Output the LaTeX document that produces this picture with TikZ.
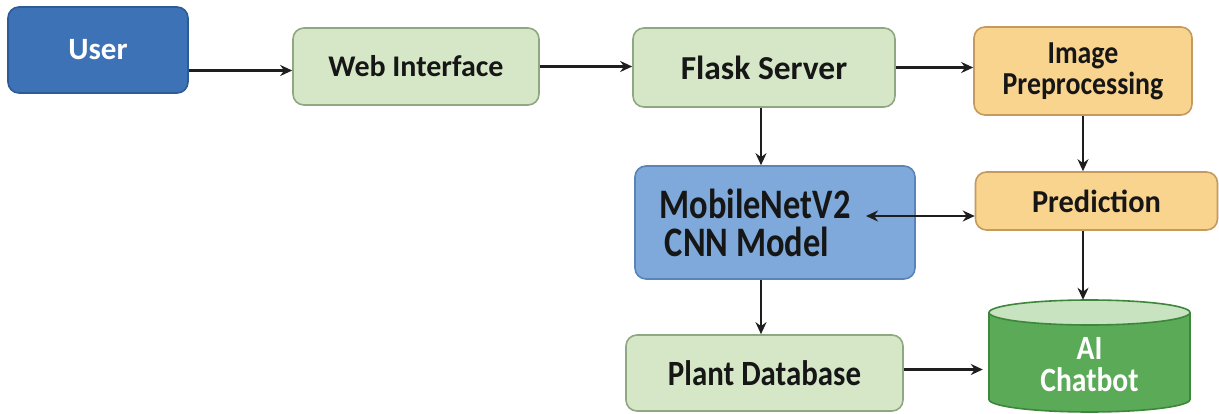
\documentclass[tikz,border=0pt]{standalone}
\usepackage{fontspec}
\setmainfont{Carlito}
\newfontfamily\fA{Carlito}
\newfontfamily\fB{Carlito}[FakeStretch=0.95]
\newfontfamily\fC{Carlito}[FakeStretch=0.87]
\newfontfamily\fD{Carlito}[FakeStretch=0.82]
\usetikzlibrary{arrows.meta}
\definecolor{ublue}{HTML}{3E72B6}
\definecolor{ubluedk}{HTML}{2D5B96}
\definecolor{lgreen}{HTML}{D5E7C7}
\definecolor{lgreendk}{HTML}{8FA882}
\definecolor{lorange}{HTML}{F9D48F}
\definecolor{lorangedk}{HTML}{C49A5E}
\definecolor{mblue}{HTML}{7FA9DA}
\definecolor{mbluedk}{HTML}{5A84B8}
\definecolor{dgreen}{HTML}{5BAA58}
\definecolor{dgreendk}{HTML}{3D873C}
\definecolor{topgreen}{HTML}{C8E3BF}
\definecolor{txt}{HTML}{161616}
\definecolor{arr}{HTML}{1E1E1E}
\begin{document}
\begin{tikzpicture}[x=1pt,y=-1pt,
  box/.style={draw, line width=1.6pt, rounded corners=11pt, align=center, text=txt, inner sep=0pt},
  greenbox/.style={box, fill=lgreen, draw=lgreendk},
  orangebox/.style={box, fill=lorange, draw=lorangedk},
  cylline/.style={draw=dgreendk, line width=1.6pt},
  conn/.style={-{Stealth[length=12pt,width=11pt]}, line width=2.2pt, arr},
  dconn/.style={{Stealth[length=12pt,width=11pt]}-{Stealth[length=12pt,width=11pt]}, line width=2.2pt, arr}]
\useasboundingbox (0,0) rectangle (1219,414);
\node[box, fill=ublue, draw=ubluedk, text=white, minimum width=180pt, minimum height=86pt, font=\fA\bfseries\fontsize{31}{34}\selectfont] (user) at (98,50) {User};
\node[greenbox, minimum width=246pt, minimum height=77pt, font=\fA\bfseries\fontsize{30}{34}\selectfont] (web) at (416,66.5) {Web Interface};
\node[greenbox, minimum width=262pt, minimum height=79pt, font=\fA\bfseries\fontsize{33.5}{36}\selectfont] (flask) at (764,67.5) {Flask Server};
\node[orangebox, minimum width=218pt, minimum height=88pt, font=\fC\bfseries\fontsize{32}{31}\selectfont] (imgpre) at (1083,71) {Image\\Preprocessing};
\node[orangebox, minimum width=242pt, minimum height=58pt, font=\fB\bfseries\fontsize{32}{34}\selectfont] (pred) at (1096.5,201) {Prediction};
\node[box, fill=mblue, draw=mbluedk, minimum width=280pt, minimum height=113pt, font=\fD\bfseries\fontsize{42}{38}\selectfont] (mobile) at (775,222.5) {MobileNetV2\hspace*{40pt}\\CNN Model\hspace*{56pt}};
\node[greenbox, minimum width=277pt, minimum height=76pt, font=\fC\bfseries\fontsize{35.5}{38}\selectfont] (plant) at (764.5,373) {Plant Database};
% cylinder (AI Chatbot)
\node[minimum width=201pt, minimum height=112pt, inner sep=0pt] (bot) at (1089.5,356) {};
\fill[dgreen] (989,312.5) -- (989,399.5) arc[start angle=180, end angle=0, x radius=100.5, y radius=12.5] -- (1190,312.5) arc[start angle=0, end angle=-180, x radius=100.5, y radius=12.5] -- cycle;
\draw[cylline] (989,312.5) -- (989,399.5) arc[start angle=180, end angle=0, x radius=100.5, y radius=12.5] -- (1190,312.5);
\draw[cylline, fill=topgreen] (1089.5,312.5) ellipse[x radius=100.5, y radius=12.5];
\node[align=center, text=white, font=\fC\bfseries\fontsize{34}{32}\selectfont, inner sep=0pt] (botlabel) at ([yshift=-9pt]bot.center) {AI\\Chatbot};
\coordinate (mnR) at (866,216);
\draw[conn] ([yshift=-4pt]user.east |- web.west) -- ([yshift=-4pt]web.west);
\draw[conn] (web.east) -- (flask.west |- web.east);
\draw[conn] (flask.east) -- (imgpre.west |- flask.east);
\draw[conn] ([xshift=-3pt]flask.south) -- ([xshift=-3pt]flask.south |- mobile.north);
\draw[conn] (imgpre.south) -- (imgpre.south |- pred.north);
\draw[dconn] (mnR) -- (pred.west |- mnR);
\draw[conn] (pred.south -| imgpre.south) -- (imgpre.south |- bot.north);
\draw[conn] ([xshift=-3pt]mobile.south -| flask.south) -- ([xshift=-3pt]flask.south |- plant.north);
\draw[conn] ([yshift=3.5pt]plant.east) -- ([xshift=-6pt,yshift=3.5pt]bot.west |- plant.east);
\end{tikzpicture}
\end{document}
